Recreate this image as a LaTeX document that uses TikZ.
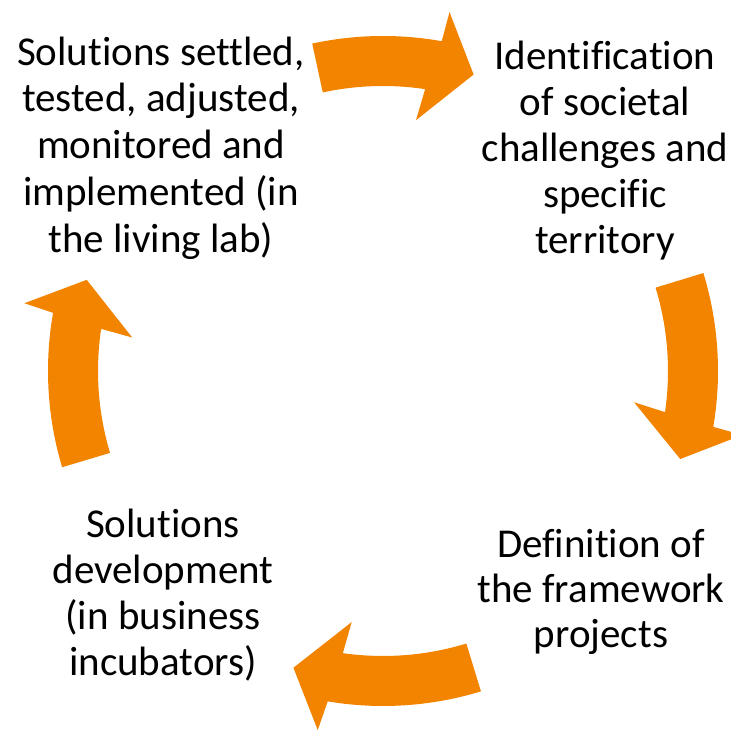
\documentclass[tikz,border=0pt]{standalone}
\usepackage{fontspec}
\setmainfont{Carlito}[Ligatures={NoCommon}]
\definecolor{arrowc}{RGB}{243,132,0}
\tikzset{
  blocktext/.style={align=center, inner sep=0pt, anchor=north, text=black},
  cyclearrow/.style={fill=arrowc, draw=none}
}
\newcommand{\firststrut}{\rule{0pt}{31.5pt}}
% #1 tail angle, #2 outer head-base angle, #3 outer head corner angle,
% #4 tip angle, #5 inner head corner angle, #6 inner head-base angle
\newcommand{\cyclearc}[6]{%
  \fill[cyclearrow] (#1:335pt) arc[start angle=#1, end angle=#2, radius=335pt]
    -- (#3:365pt) -- (#4:310pt) -- (#5:253pt) -- (#6:285pt)
    arc[start angle=#6, end angle=#1, radius=285pt] -- cycle;}
\begin{document}
\begin{tikzpicture}[x=1pt,y=1pt]
\useasboundingbox (0,0) rectangle (731,730);
\begin{scope}[shift={(383,359)}]
  \cyclearc{102.2}{79.9}{79.5}{73.0}{82.5}{81.5}
  \cyclearc{17}{-9.6}{-10.1}{-16.5}{-7.1}{-8.3}
  \cyclearc{-73}{-99.5}{-100.3}{-106.8}{-97.1}{-98.1}
  \cyclearc{196.7}{170}{169.3}{162.9}{172.4}{171.5}
\end{scope}
\node[blocktext, font=\fontsize{41}{46.75}\selectfont] (tl) at (161,696.5)
  {\firststrut Solutions settled,\\tested, adjusted,\\monitored and\\implemented (in\\the living lab)};
\node[blocktext, font=\fontsize{41}{46}\selectfont] (tr) at (605,692.5)
  {\firststrut Identification\\of societal\\challenges and\\specific\\territory};
\node[blocktext, font=\fontsize{41}{45}\selectfont] (br) at (601,204.5)
  {\firststrut Definition of\\the framework\\projects};
\node[blocktext, font=\fontsize{41}{46}\selectfont] (bl) at (163,224.5)
  {\firststrut Solutions\\development\\(in business\\incubators)};
\end{tikzpicture}
\end{document}
